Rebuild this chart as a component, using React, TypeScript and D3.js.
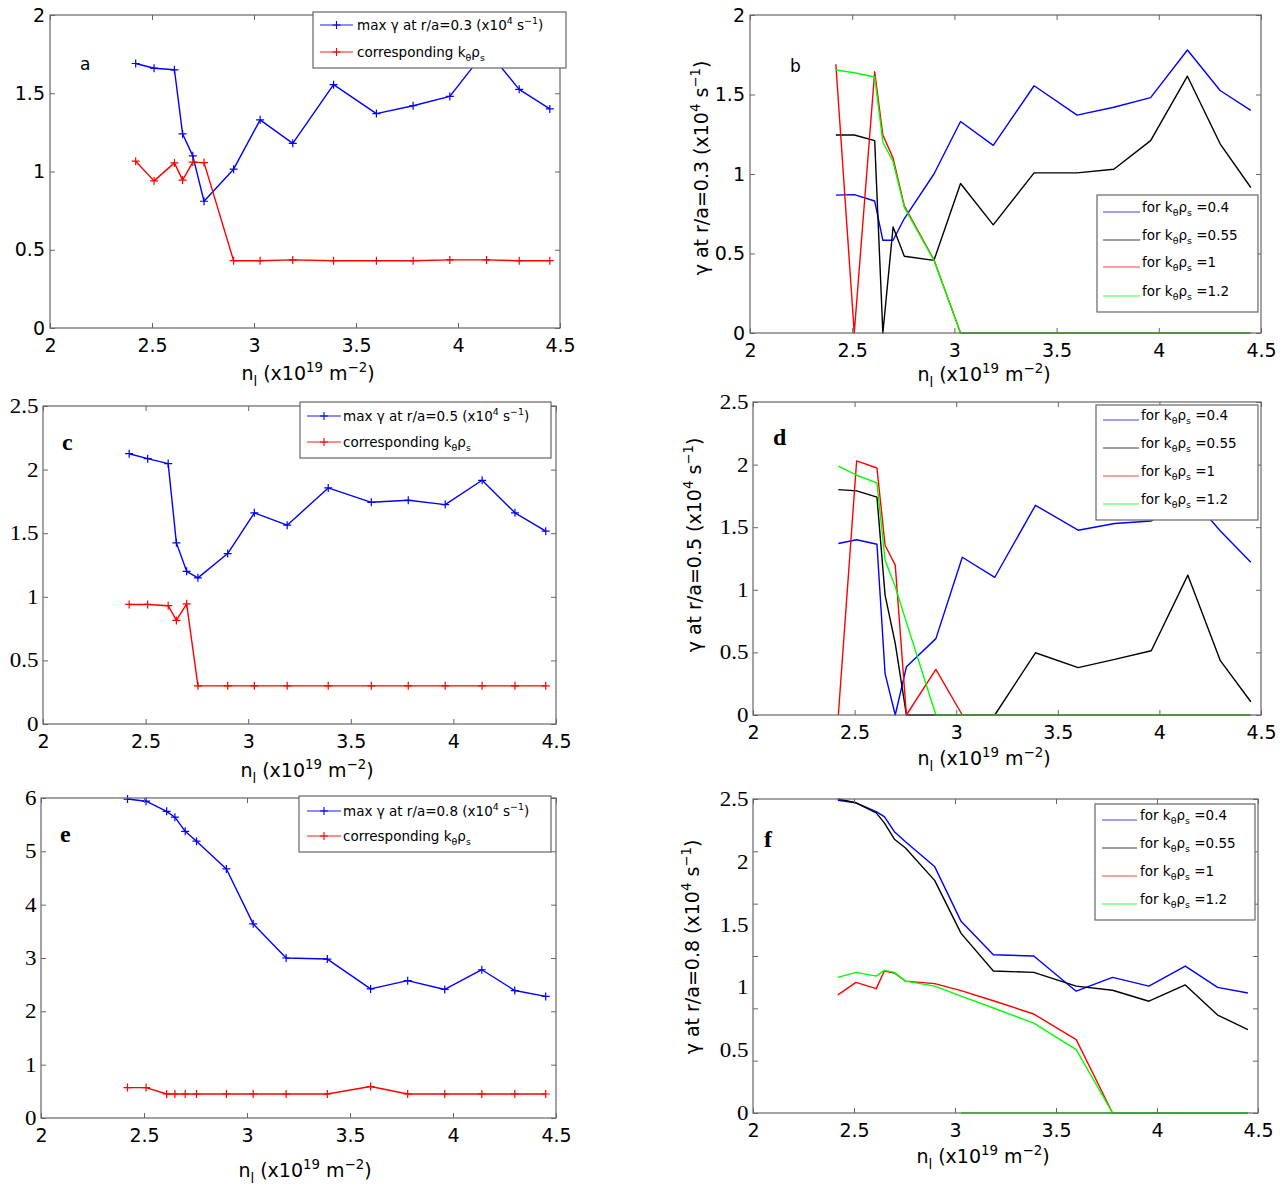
import React, { useEffect, useRef } from "react";
import * as d3 from "d3";

// line density n_l (x10^19 m^-2), same scan in every panel
const nl = [2.42, 2.51, 2.61, 2.65, 2.7, 2.755, 2.9, 3.03, 3.19, 3.39, 3.6, 3.78, 3.96, 4.14, 4.3, 4.45];
const xTicks = [2, 2.5, 3, 3.5, 4, 4.5];

// a : r/a = 0.3
const aMaxGamma = [1.69, 1.66, 1.65, 1.24, 1.1, 0.81, 1.015, 1.33, 1.18, 1.555, 1.37, 1.42, 1.48, 1.78, 1.525, 1.4];
const aKrho = [1.066, 0.94, 1.055, 0.945, 1.06, 1.057, 0.43, 0.43, 0.435, 0.43, 0.43, 0.43, 0.435, 0.435, 0.43, 0.43];

// b : gamma at r/a = 0.3 for fixed k_theta rho_s
const bK04 = [0.867, 0.87, 0.83, 0.583, 0.583, 0.72, 1.0, 1.33, 1.18, 1.555, 1.37, 1.42, 1.48, 1.78, 1.525, 1.4];
const bK055 = [1.245, 1.245, 1.21, 0, 0.667, 0.483, 0.457, 0.94, 0.68, 1.007, 1.007, 1.03, 1.21, 1.615, 1.19, 0.915];
const bK1 = [1.69, 0, 1.643, 1.245, 1.1, 0.8, 0.46, 0, 0, 0, 0, 0, 0, 0, 0, 0];
const bK12 = [1.654, 1.637, 1.61, 1.2, 1.077, 0.79, 0.457, 0, 0, 0, 0, 0, 0, 0, 0, 0];

// c : r/a = 0.5
const cMaxGamma = [2.125, 2.086, 2.047, 1.424, 1.2, 1.149, 1.34, 1.66, 1.563, 1.856, 1.743, 1.759, 1.725, 1.916, 1.66, 1.516];
const cKrho = [0.94, 0.94, 0.93, 0.814, 0.945, 0.3, 0.3, 0.3, 0.3, 0.3, 0.3, 0.3, 0.3, 0.3, 0.3, 0.3];

// d
const dK04 = [1.37, 1.4, 1.364, 0.33, 0, 0.385, 0.61, 1.26, 1.1, 1.675, 1.476, 1.53, 1.55, 1.77, 1.47, 1.22];
const dK055 = [1.8, 1.79, 1.74, 0.957, 0.572, 0, 0, 0, 0, 0.497, 0.378, 0.444, 0.513, 1.117, 0.434, 0.106];
const dK1 = [0, 2.03, 1.973, 1.356, 1.197, 0, 0.364, 0, 0, 0, 0, 0, 0, 0, 0, 0];
const dK12 = [1.987, 1.915, 1.854, 1.237, 1.024, 0.74, 0, 0, 0, 0, 0, 0, 0, 0, 0, 0];

// e : r/a = 0.8
const eMaxGamma = [5.98, 5.94, 5.75, 5.64, 5.375, 5.19, 4.67, 3.64, 3.0, 2.98, 2.42, 2.575, 2.41, 2.78, 2.39, 2.28];
const eKrho = [0.57, 0.57, 0.45, 0.45, 0.45, 0.45, 0.45, 0.45, 0.45, 0.45, 0.59, 0.45, 0.45, 0.45, 0.45, 0.45];

// f
const fK04 = [2.49, 2.47, 2.4, 2.36, 2.24, 2.16, 1.96, 1.526, 1.26, 1.25, 0.97, 1.08, 1.01, 1.17, 1.0, 0.955];
const fK055 = [2.5, 2.47, 2.39, 2.31, 2.18, 2.11, 1.85, 1.43, 1.13, 1.12, 1.01, 0.977, 0.89, 1.02, 0.78, 0.663];
const fK1 = [0.94, 1.04, 0.99, 1.13, 1.115, 1.05, 1.03, 0.974, 0.894, 0.788, 0.584, 0, 0, 0, 0, 0];
const fK12 = [1.08, 1.12, 1.09, 1.136, 1.12, 1.05, 1.01, 0.93, 0.836, 0.716, 0.504, 0, 0, 0, 0, 0];
const fK12Tail = [0, 0, 0, 0, 0, 0, 0, 0, 0];

const kValues = ["0.4", "0.55", "1", "1.2"];
const kColors = ["#0000ff", "#000000", "#ff0000", "#00ff00"];

const SANS = "'DejaVu Sans', sans-serif";
const SERIF = "'Liberation Serif', serif";
const AXIS = "#666";

const maxSegs = (r: string) => [["max γ at r/a=" + r + " (x10"], ["4", "sup"], [" s"], ["−1", "sup"], [")"]];
const corrSegs = [["corresponding k"], ["θ", "sub"], ["ρ"], ["s", "sub"]];
const forSegs = (k: string) => [["for k"], ["θ", "sub"], ["ρ"], ["s", "sub"], [" =" + k]];
const xLabelSegs = [["n"], ["l", "sub"], [" (x10"], ["19", "sup"], [" m"], ["−2", "sup"], [")"]];
const yLabelSegs = (r: string) => [["γ at r/a=" + r + " (x10"], ["4", "sup"], [" s"], ["−1", "sup"], [")"]];

const kSeries = (arrs: number[][]) => arrs.map((ys, i) => ({ ys, color: kColors[i] }));
const kLegend = kValues.map((k, i) => ({ color: kColors[i], segs: forSegs(k) }));

const panels: any[] = [
  {
    l: 50, r: 560, t: 15, b: 328, yMax: 2, yTicks: [0, 0.5, 1, 1.5, 2], serif: false,
    letter: { t: "a", x: 80, y: 70 }, xLab: { x: 308, y: 380 },
    series: [{ ys: aMaxGamma, color: "#0000ff", marker: true }, { ys: aKrho, color: "#ff0000", marker: true }],
    legend: { type: "A", x1: 313, y1: 12, x2: 566, y2: 68, lx1: 320, lx2: 353, tx: 357, rows: [25, 52],
      entries: [{ color: "#0000ff", segs: maxSegs("0.3") }, { color: "#ff0000", segs: corrSegs }] },
  },
  {
    l: 750, r: 1261, t: 15, b: 333, yMax: 2, yTicks: [0, 0.5, 1, 1.5, 2], serif: false,
    letter: { t: "b", x: 790, y: 72 }, xLab: { x: 984, y: 381 }, yLab: { x: 708, y: 168, r: "0.3" },
    series: kSeries([bK04, bK055, bK1, bK12]),
    legend: { type: "B", x1: 1097, y1: 195, x2: 1258, y2: 312, lx1: 1103, lx2: 1140, tx: 1142, rows: [212, 240, 267, 296], entries: kLegend },
  },
  {
    l: 43, r: 556, t: 406, b: 724, yMax: 2.5, yTicks: [0, 0.5, 1, 1.5, 2, 2.5], serif: true,
    letter: { t: "c", x: 62, y: 450 }, xLab: { x: 307, y: 777 },
    series: [{ ys: cMaxGamma, color: "#0000ff", marker: true }, { ys: cKrho, color: "#ff0000", marker: true }],
    legend: { type: "A", x1: 300, y1: 402, x2: 551, y2: 458, lx1: 307, lx2: 341, tx: 343, rows: [416, 442],
      entries: [{ color: "#0000ff", segs: maxSegs("0.5") }, { color: "#ff0000", segs: corrSegs }] },
  },
  {
    l: 753, r: 1261, t: 402, b: 715, yMax: 2.5, yTicks: [0, 0.5, 1, 1.5, 2, 2.5], serif: true,
    letter: { t: "d", x: 773, y: 445 }, xLab: { x: 984, y: 765 }, yLab: { x: 701, y: 545, r: "0.5" },
    series: kSeries([dK04, dK055, dK1, dK12]),
    legend: { type: "B", x1: 1096, y1: 405, x2: 1258, y2: 520, lx1: 1103, lx2: 1139, tx: 1141, rows: [420, 448, 476, 504], entries: kLegend },
  },
  {
    l: 41, r: 556, t: 798, b: 1118, yMax: 6, yTicks: [0, 1, 2, 3, 4, 5, 6], serif: true,
    letter: { t: "e", x: 60, y: 842 }, xLab: { x: 305, y: 1177 },
    series: [{ ys: eMaxGamma, color: "#0000ff", marker: true }, { ys: eKrho, color: "#ff0000", marker: true }],
    legend: { type: "A", x1: 299, y1: 796, x2: 551, y2: 852, lx1: 307, lx2: 341, tx: 343, rows: [811, 836],
      entries: [{ color: "#0000ff", segs: maxSegs("0.8") }, { color: "#ff0000", segs: corrSegs }] },
  },
  {
    l: 753, r: 1258, t: 799, b: 1113, yMax: 2.5, yTicks: [0, 0.5, 1, 1.5, 2, 2.5], serif: true,
    tickMax: 3, tickMarks: [0, 0.5, 1, 1.5, 2, 2.5, 3],
    letter: { t: "f", x: 764, y: 847 }, xLab: { x: 983, y: 1163 }, yLab: { x: 699, y: 947, r: "0.8" },
    series: [...kSeries([fK04, fK055, fK1, fK12]), { xs: nl.slice(7), ys: fK12Tail, color: "#00ff00" }],
    legend: { type: "B", x1: 1095, y1: 804, x2: 1255, y2: 920, lx1: 1102, lx2: 1137, tx: 1140, rows: [820, 848, 876, 904], entries: kLegend },
  },
];

function rich(text: any, segs: any[], size: number) {
  let shift = 0;
  segs.forEach(([t, kind]) => {
    const target = kind === "sup" ? -0.42 * size : kind === "sub" ? 0.3 * size : 0;
    text.append("tspan").attr("dy", target - shift).attr("font-size", kind ? size * 0.7 : size).text(t);
    shift = target;
  });
}

const plus = (cx: number, cy: number, h: number) => `M${cx - h},${cy}h${2 * h}M${cx},${cy - h}v${2 * h}`;

function drawPanel(svg: any, p: any) {
  const g = svg.append("g");
  const x = d3.scaleLinear().domain([2, 4.5]).range([p.l, p.r]);
  const y = d3.scaleLinear().domain([0, p.yMax]).range([p.b, p.t]);
  const yt = p.tickMax ? d3.scaleLinear().domain([0, p.tickMax]).range([p.b, p.t]) : y;
  const tickMarks = p.tickMarks || p.yTicks;

  // data
  p.series.forEach((s: any) => {
    const xs = s.xs || nl;
    const pts = s.ys.map((v: number, i: number) => [xs[i], v]);
    g.append("path").datum(pts)
      .attr("d", d3.line().x((d: any) => x(d[0])).y((d: any) => y(d[1])))
      .attr("fill", "none").attr("stroke", s.color).attr("stroke-width", 1.4).attr("stroke-linejoin", "round");
    if (s.marker) {
      g.append("g").selectAll("path").data(pts).join("path")
        .attr("d", (d: any) => plus(x(d[0]), y(d[1]), 4))
        .attr("stroke", s.color).attr("stroke-width", 1.2);
    }
  });

  // box + inward ticks
  g.append("rect").attr("x", p.l).attr("y", p.t).attr("width", p.r - p.l).attr("height", p.b - p.t)
    .attr("fill", "none").attr("stroke", AXIS).attr("stroke-width", 1.2);
  const tickAxis = (axis: any, tr: string) => {
    const gg = g.append("g").attr("transform", tr).call(axis);
    gg.select(".domain").remove();
    gg.selectAll("text").remove();
    gg.selectAll("line").attr("stroke", AXIS).attr("stroke-width", 1);
  };
  tickAxis(d3.axisBottom(x).tickValues(xTicks).tickSizeInner(-5).tickSizeOuter(0), `translate(0,${p.b})`);
  tickAxis(d3.axisTop(x).tickValues(xTicks).tickSizeInner(-5).tickSizeOuter(0), `translate(0,${p.t})`);
  tickAxis(d3.axisLeft(yt).tickValues(tickMarks).tickSizeInner(-5).tickSizeOuter(0), `translate(${p.l},0)`);
  tickAxis(d3.axisRight(yt).tickValues(tickMarks).tickSizeInner(-5).tickSizeOuter(0), `translate(${p.r},0)`);

  // tick labels
  const gx = g.append("g").attr("transform", `translate(0,${p.b})`)
    .call(d3.axisBottom(x).tickValues(xTicks).tickSize(0).tickPadding(11).tickFormat((d: any) => String(d)));
  gx.select(".domain").remove();
  gx.selectAll("text").attr("font-family", SANS).attr("font-size", 19).attr("fill", "#000");

  const gy = g.append("g").attr("transform", `translate(${p.l},0)`)
    .call(d3.axisLeft(y).tickValues(p.yTicks).tickSize(0).tickPadding(p.serif ? 4 : 5).tickFormat((d: any) => String(d)));
  gy.select(".domain").remove();
  if (p.serif) {
    gy.selectAll("text").attr("font-family", SERIF).attr("font-size", 20).attr("fill", "#000")
      .attr("transform", "scale(1.15,1)");
  } else {
    gy.selectAll("text").attr("font-family", SANS).attr("font-size", 19).attr("fill", "#000");
  }

  // panel letter
  g.append("text").attr("x", p.letter.x).attr("y", p.letter.y)
    .attr("font-family", p.serif ? SERIF : SANS).attr("font-size", p.serif ? 24 : 17)
    .attr("font-weight", p.serif ? "bold" : "normal").text(p.letter.t);

  // axis labels
  const xl = g.append("text").attr("x", p.xLab.x).attr("y", p.xLab.y).attr("text-anchor", "middle")
    .attr("font-family", SANS).style("white-space", "pre");
  rich(xl, xLabelSegs, 19);
  if (p.yLab) {
    const yl = g.append("text").attr("transform", `translate(${p.yLab.x},${p.yLab.y}) rotate(-90)`)
      .attr("text-anchor", "middle").attr("font-family", SANS).style("white-space", "pre");
    rich(yl, yLabelSegs(p.yLab.r), 19);
  }

  // legend
  const lg = p.legend;
  const L = g.append("g");
  L.append("rect").attr("x", lg.x1).attr("y", lg.y1).attr("width", lg.x2 - lg.x1).attr("height", lg.y2 - lg.y1)
    .attr("fill", "#fff").attr("stroke", AXIS).attr("stroke-width", 1.2);
  lg.entries.forEach((e: any, i: number) => {
    const yy = lg.rows[i];
    L.append("line").attr("x1", lg.lx1).attr("x2", lg.lx2).attr("y1", yy).attr("y2", yy)
      .attr("stroke", e.color).attr("stroke-width", 1.1).attr("stroke-opacity", lg.type === "B" ? 0.75 : 0.9);
    if (lg.type === "A") {
      L.append("path").attr("d", plus((lg.lx1 + lg.lx2) / 2, yy, 4)).attr("stroke", e.color).attr("stroke-width", 1.1);
    }
    const t = L.append("text").attr("x", lg.tx).attr("y", lg.type === "A" ? yy + 5 : yy)
      .attr("font-family", SANS).style("white-space", "pre");
    rich(t, e.segs, 13.5);
  });
}

export default function App() {
  const ref = useRef<SVGSVGElement>(null);
  useEffect(() => {
    const svg = d3.select(ref.current);
    svg.selectAll("*").remove();
    panels.forEach((p) => drawPanel(svg, p));
  }, []);
  return (
    <svg ref={ref} width={1285} height={1187}
      style={{ position: "absolute", left: 0, top: 0, background: "#fff" }} />
  );
}
